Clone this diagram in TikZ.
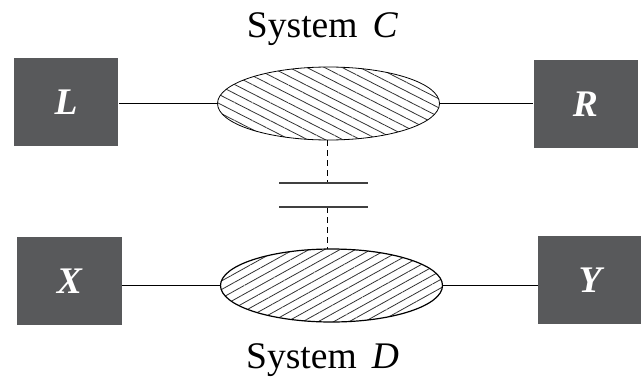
\documentclass[tikz,border=0pt]{standalone}
\usepackage{fontspec}
\setmainfont{Liberation Serif}
\usetikzlibrary{shapes.geometric,patterns.meta}
\definecolor{boxgray}{RGB}{88,89,91}
\definecolor{hatchgray}{RGB}{50,50,50}

\begin{document}
\begin{tikzpicture}[x=1bp,y=1bp,line width=1bp,
  sysbox/.style={fill=boxgray,minimum width=104bp,minimum height=88bp,inner sep=0pt,
    text=white,font=\fontsize{37.7}{40}\selectfont\bfseries\itshape},
  sysblob/.style={ellipse,draw,minimum width=222bp,minimum height=73bp,inner sep=0pt},
  syslabel/.style={font=\fontsize{37.7}{40}\selectfont,anchor=base},
  platedash/.style={dash pattern=on 6bp off 4bp},
  plate/.style={draw=black!75,line width=1.3bp}]
  \useasboundingbox (0,0) rectangle (641,378);
  % boxes
  \node[sysbox] (L) at (66,276) {L};
  \node[sysbox] (R) at (585.5,274) {R};
  \node[sysbox] (X) at (69.5,97) {X};
  \node[sysbox] (Y) at (590,98) {Y};
  % the two systems
  \node[sysblob,line width=0.8bp,pattern={Lines[angle=-27,distance=8bp,line width=0.8bp]},
    pattern color=hatchgray] (C) at (328.5,274.5) {};
  \node[sysblob,line width=1.2bp,pattern={Lines[angle=29,distance=7.5bp,line width=0.8bp]},
    pattern color=hatchgray] (D) at (331.5,92.5) {};
  \node[syslabel] (labC) at (322.5,341) {System\hspace{0.4em}\textit{C}};
  \node[syslabel] (labD) at (322.5,10) {System\hspace{0.4em}\textit{D}};
  % links
  \draw (C.west) -- (C.west -| L.east);
  \draw (C.east) -- (C.east -| R.west);
  \draw (D.west) -- (D.west -| X.east);
  \draw (D.east) -- (D.east -| Y.west);
  % coupling
  \coordinate (P1) at (327,195);
  \coordinate (P2) at (327,171);
  \draw[platedash] (C.south -| P1) -- (P1);
  \draw[platedash] (P2) -- (D.north -| P2);
  \draw[plate] ([xshift=-48bp]P1) -- ([xshift=41bp]P1);
  \draw[plate] ([xshift=-48bp]P2) -- ([xshift=41bp]P2);
\end{tikzpicture}
\end{document}
